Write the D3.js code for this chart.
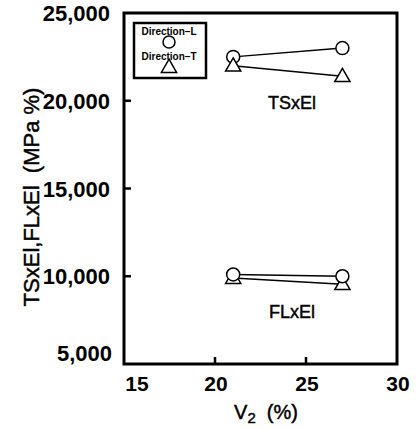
<!DOCTYPE html>
<html>
<head>
<meta charset="utf-8">
<script src="https://cdn.jsdelivr.net/npm/d3@7"></script>
<style>
body { margin: 0; background: #fff; }
svg text { font-family: "Liberation Sans", Arial, sans-serif; fill: #000; }
.heavy { stroke: #000; stroke-width: 0.45px; }
</style>
</head>
<body>
<svg id="chart" width="419" height="430"></svg>
<script>
// values
var v2 = [21, 27];
var tsL = [22500, 23000];
var tsT = [22000, 21400];
var flL = [10100, 10000];
var flT = [9900, 9550];
var xTicks = [15, 20, 25, 30];
var yTicks = [5000, 10000, 15000, 20000, 25000];

var svg = d3.select('#chart');
var plotL = 124, plotR = 397, plotT = 13, plotB = 364;

var x = d3.scaleLinear().domain([15, 30]).range([plotL, plotR]);
var y = d3.scaleLinear().domain([5000, 25000]).range([plotB, plotT]);

var fmt = d3.format(',');

// inner ticks
svg.selectAll('.ytick')
    .data(yTicks.slice(1, -1))
    .enter().append('line')
    .attr('x1', plotL).attr('x2', plotL + 7)
    .attr('y1', function (d) { return y(d); })
    .attr('y2', function (d) { return y(d); })
    .attr('stroke', '#000').attr('stroke-width', 2.5);

svg.selectAll('.xtick')
    .data(xTicks.slice(1, -1))
    .enter().append('line')
    .attr('x1', function (d) { return x(d); })
    .attr('x2', function (d) { return x(d); })
    .attr('y1', plotB).attr('y2', plotB - 7)
    .attr('stroke', '#000').attr('stroke-width', 2.5);

// frame
svg.append('rect')
    .attr('x', plotL).attr('y', plotT)
    .attr('width', plotR - plotL).attr('height', plotB - plotT)
    .attr('fill', 'none').attr('stroke', '#000').attr('stroke-width', 3);

// tick labels
svg.selectAll('.ylab')
    .data(yTicks)
    .enter().append('text')
    .attr('x', function (d) { return d === 5000 ? 112 : 110; })
    .attr('y', function (d) { return d === 5000 ? y(d) - 3 : y(d) + 8; })
    .attr('text-anchor', 'end')
    .style('font-size', '22px')
    .style('font-weight', 'bold')
    .text(fmt);

svg.selectAll('.xlab')
    .data(xTicks)
    .enter().append('text')
    .attr('x', function (d) { return d === 15 ? x(d) + 13 : x(d) + 1; })
    .attr('y', 391)
    .attr('text-anchor', 'middle')
    .style('font-size', '21px')
    .style('font-weight', 'bold')
    .text(function (d) { return d; });

// axis titles
var xt = svg.append('text')
    .attr('class', 'heavy')
    .attr('x', 266).attr('y', 419)
    .attr('text-anchor', 'middle')
    .style('font-size', '20px');
xt.append('tspan').text('V');
xt.append('tspan').attr('dy', 4).style('font-size', '15px').text('2');
xt.append('tspan').attr('dy', -4).text('\u00a0\u00a0(%)');

svg.append('text')
    .attr('class', 'heavy')
    .attr('transform', 'translate(39,197) rotate(-90)')
    .attr('text-anchor', 'middle')
    .style('font-size', '22px')
    .text('TSxEl,FLxEl\u00a0\u00a0(MPa %)');

// lines
var line = d3.line()
    .x(function (d, i) { return x(v2[i]); })
    .y(function (d) { return y(d); });

[tsL, tsT, flL, flT].forEach(function (s) {
    svg.append('path')
        .attr('d', line(s))
        .attr('fill', 'none')
        .attr('stroke', '#000')
        .attr('stroke-width', 1.5);
});

var tri = d3.symbol().type(d3.symbolTriangle).size(100);

function drawCircles(s) {
    svg.selectAll(null)
        .data(s)
        .enter().append('circle')
        .attr('cx', function (d, i) { return x(v2[i]); })
        .attr('cy', function (d) { return y(d); })
        .attr('r', 6.5)
        .attr('fill', '#fff').attr('stroke', '#000').attr('stroke-width', 1.5);
}

function drawTriangles(s) {
    svg.selectAll(null)
        .data(s)
        .enter().append('path')
        .attr('d', tri)
        .attr('transform', function (d, i) {
            return 'translate(' + x(v2[i]) + ',' + (y(d) + 1) + ')';
        })
        .attr('fill', '#fff').attr('stroke', '#000').attr('stroke-width', 1.5);
}

drawCircles(tsL);
drawTriangles(tsT);
drawTriangles(flT);
drawCircles(flL);

// series labels
svg.append('text').attr('class', 'heavy').attr('x', 292).attr('y', 109)
    .attr('text-anchor', 'middle').style('font-size', '18px').text('TSxEl');
svg.append('text').attr('class', 'heavy').attr('x', 292).attr('y', 318)
    .attr('text-anchor', 'middle').style('font-size', '18px').text('FLxEl');

// legend
svg.append('rect')
    .attr('x', 134).attr('y', 23).attr('width', 72).attr('height', 55)
    .attr('fill', 'none').attr('stroke', '#000').attr('stroke-width', 2.5);

svg.append('text').attr('x', 169).attr('y', 35)
    .attr('text-anchor', 'middle').style('font-size', '10px').style('font-weight', 'bold')
    .text('Direction\u2013L');
svg.append('circle').attr('cx', 169).attr('cy', 42).attr('r', 6)
    .attr('fill', '#fff').attr('stroke', '#000').attr('stroke-width', 1.5);

svg.append('text').attr('x', 169).attr('y', 60)
    .attr('text-anchor', 'middle').style('font-size', '10px').style('font-weight', 'bold')
    .text('Direction\u2013T');
svg.append('path').attr('d', tri)
    .attr('transform', 'translate(169,68)')
    .attr('fill', '#fff').attr('stroke', '#000').attr('stroke-width', 1.5);
</script>
</body>
</html>
